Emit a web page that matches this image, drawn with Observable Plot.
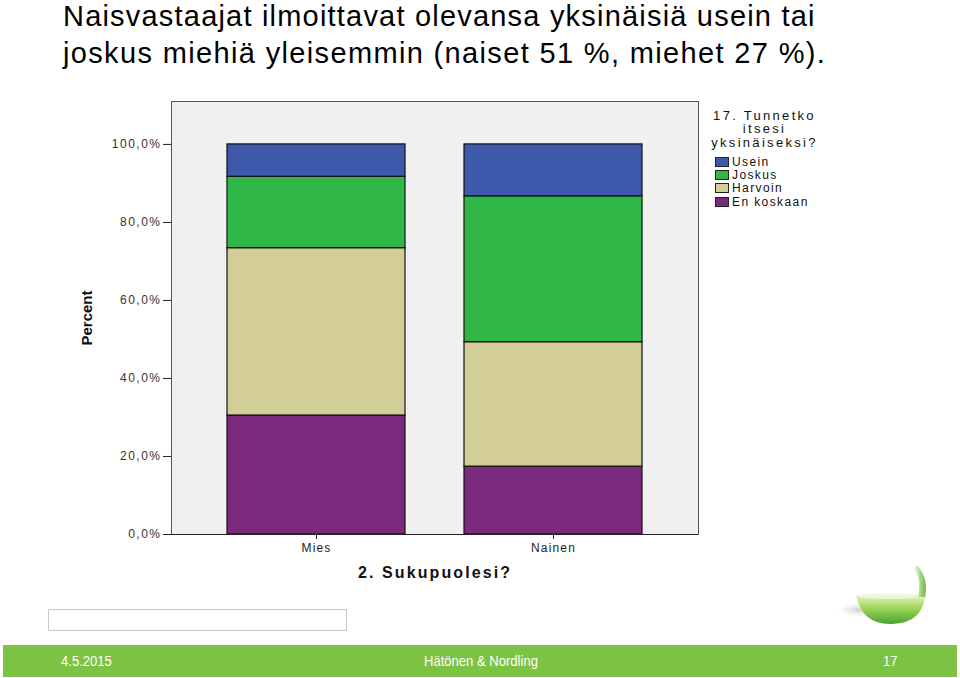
<!DOCTYPE html>
<html>
<head>
<meta charset="utf-8">
<script src="https://cdn.jsdelivr.net/npm/d3@7"></script>
<script src="https://cdn.jsdelivr.net/npm/@observablehq/plot@0.6"></script>
<style>
  html, body { margin: 0; padding: 0; background: #fff; }
  #page { position: relative; width: 960px; height: 678px; overflow: hidden; font-family: "Liberation Sans", Arial, sans-serif; }
  #title { position: absolute; left: 63px; top: 0px; font-size: 29px; line-height: 33px; color: #000; white-space: nowrap; letter-spacing: 1.2px; }
  #title div + div { margin-top: 4px; letter-spacing: 1.35px; }
  #chart { position: absolute; left: 0; top: 90px; }
  #chart g[aria-label="y-axis tick label"] text { letter-spacing: 1.5px; }
  #chart g[aria-label="x-axis tick label"] text { letter-spacing: 1.2px; }
  #chart .xtitle text { letter-spacing: 2.1px; }
  #legend { position: absolute; left: 704px; top: 109px; width: 118px; color: #111; }
  #legend .ltitle { text-align: center; letter-spacing: 2.3px; line-height: 13.3px; font-size: 13px; margin-bottom: 6px; margin-left: 3px; }
  #legend .item { display: flex; align-items: center; height: 13.4px; letter-spacing: 1.4px; margin-left: 11px; font-size: 12px; }
  #legend .sw { width: 14px; height: 10px; border: 1px solid #222; box-sizing: border-box; margin-right: 3px; flex: none; }
  #footer { position: absolute; left: 3px; top: 645px; width: 954px; height: 32px; background: #7dc242; color: #fff; font-family: "Liberation Sans", Arial, sans-serif; font-size: 15px; }
  #footer span { position: absolute; top: 7px; transform: scaleX(0.87); transform-origin: left center; white-space: nowrap; }
  #box { position: absolute; left: 48px; top: 609px; width: 299px; height: 22px; border: 1px solid #c8c8c8; box-sizing: border-box; }
  #logo { position: absolute; left: 820px; top: 555px; }
</style>
</head>
<body>
<div id="page">
  <div id="title"></div>
  <div id="chart"></div>
  <div id="legend"></div>
  <div id="box"></div>
  <svg id="logo" width="120" height="90" viewBox="0 0 120 90">
    <defs>
      <linearGradient id="bowl" x1="0" y1="0" x2="0" y2="1">
        <stop offset="0" stop-color="#e2f3c4"/>
        <stop offset="0.45" stop-color="#9fd65a"/>
        <stop offset="1" stop-color="#4aa332"/>
      </linearGradient>
      <linearGradient id="rim" x1="0" y1="0" x2="1" y2="0">
        <stop offset="0" stop-color="#f2f8e8"/>
        <stop offset="1" stop-color="#6ab83a"/>
      </linearGradient>
      <radialGradient id="shadow">
        <stop offset="0" stop-color="#bbb" stop-opacity="0.7"/>
        <stop offset="1" stop-color="#fff" stop-opacity="0"/>
      </radialGradient>
    </defs>
    <ellipse cx="38" cy="55" rx="26" ry="9" fill="url(#shadow)"/>
    <path d="M 36 40 L 105 40 Q 103 68 72 69 Q 42 70 36 40 Z" fill="url(#bowl)"/>
    <ellipse cx="70" cy="41" rx="34" ry="3" fill="#eef8dc" opacity="0.8"/>
    <path d="M 98 42 Q 102 24 94 14 L 97 10 Q 109 24 105 42 Z" fill="url(#rim)"/>
  </svg>
  <div id="footer"><span style="left:58px">4.5.2015</span><span style="left:421px">Hätönen &amp; Nordling</span><span style="left:880px">17</span></div>
</div>
<script>
// ---- data ----
const titleLines = ["Naisvastaajat ilmoittavat olevansa yksinäisiä usein tai", "joskus miehiä yleisemmin (naiset 51 %, miehet 27 %)."];
const categories = ["Mies", "Nainen"];
const series = ["En koskaan", "Harvoin", "Joskus", "Usein"]; // bottom to top
const miesValues = [30.5, 42.9, 18.3, 8.3];
const nainenValues = [17.4, 31.9, 37.4, 13.3];
const seriesColors = ["#7b297c", "#d3ce97", "#30b748", "#3e58ab"];
const yTicks = [0, 20, 40, 60, 80, 100];
const legendTitle = ["17. Tunnetko", "itsesi", "yksinäiseksi?"];
const xTitle = "2. Sukupuolesi?";
const yTitle = "Percent";

// ---- table ----
const rows = [];
series.forEach((s, i) => {
  rows.push({gender: categories[0], answer: s, value: miesValues[i]});
  rows.push({gender: categories[1], answer: s, value: nainenValues[i]});
});

document.getElementById("title").innerHTML = titleLines.map(t => `<div>${t}</div>`).join("");

const chart = Plot.plot({
  width: 720,
  height: 500,
  marginLeft: 171,
  marginRight: 22,
  marginTop: 11,
  marginBottom: 56,
  style: {fontFamily: "Liberation Sans, Arial, sans-serif", fontSize: "12px", color: "#222", background: "transparent", overflow: "visible"},
  x: {domain: categories, paddingInner: 0.249, paddingOuter: 0.236, label: null},
  y: {domain: [0, 111], label: null},
  color: {domain: series, range: seriesColors},
  marks: [
    Plot.frame({fill: "#f0f0f0", stroke: "#555", strokeWidth: 1}),
    Plot.barY(rows, {x: "gender", y: "value", fill: "answer", stroke: "#111", strokeWidth: 1.2, order: series}),
    Plot.axisY({ticks: yTicks, tickFormat: d => d.toFixed(1).replace(".", ",") + "%", tickSize: 8, tickPadding: 2, stroke: "#222", fontSize: 12, fill: "#333"}),
    Plot.axisX({tickSize: 5, tickPadding: 4, fontSize: 12, fill: "#222"}),
    Plot.ruleY([0], {stroke: "#222", strokeWidth: 1.2}),
    Plot.ruleX([0], {frameAnchor: "left", stroke: "#222"}),
    Plot.text([yTitle], {frameAnchor: "left", dx: -84, rotate: -90, textAnchor: "middle", lineAnchor: "middle", fontWeight: "bold", fontSize: 15, fill: "#111"}),
    Plot.text([xTitle], {frameAnchor: "bottom", dy: 38, textAnchor: "middle", lineAnchor: "middle", fontWeight: "bold", fontSize: 16, fill: "#111", className: "xtitle"})
  ]
});
document.getElementById("chart").appendChild(chart);

// ---- legend ----
const legend = document.getElementById("legend");
legend.innerHTML = `<div class="ltitle">${legendTitle.join("<br>")}</div>` +
  series.slice().reverse().map((s) => {
    const c = seriesColors[series.indexOf(s)];
    return `<div class="item"><div class="sw" style="background:${c}"></div>${s}</div>`;
  }).join("");
</script>
</body>
</html>
